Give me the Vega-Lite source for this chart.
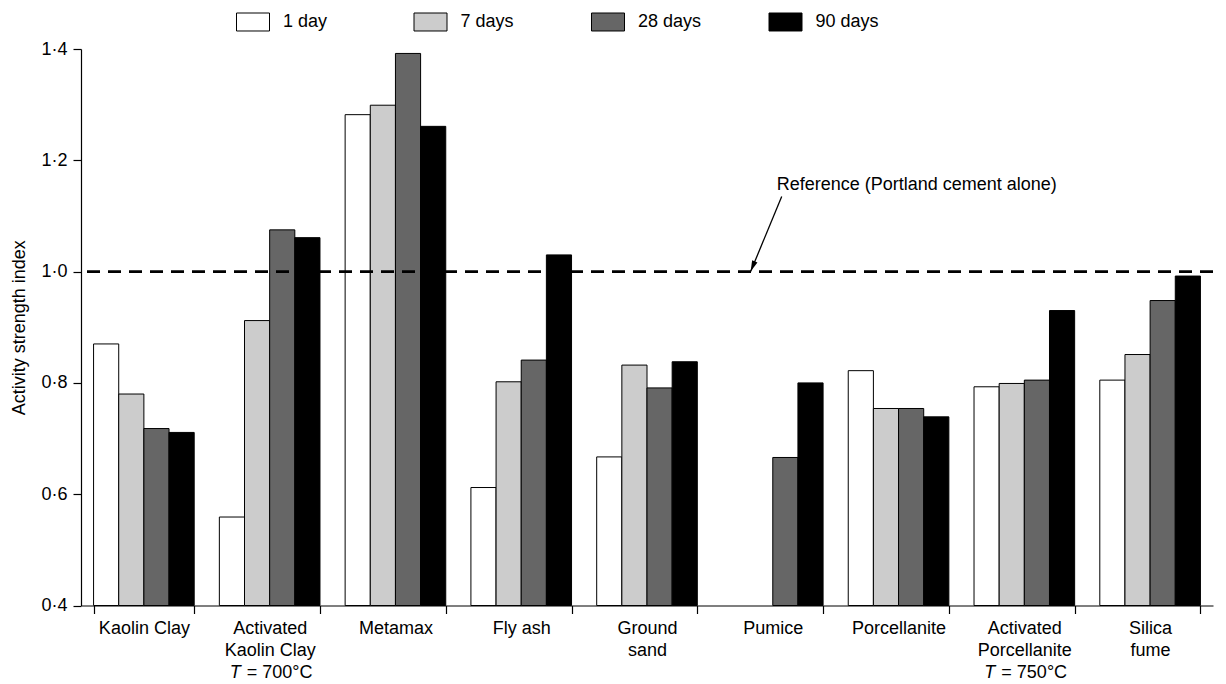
{
  "$schema": "https://vega.github.io/schema/vega-lite/v6.json",
  "autosize": {"type": "none"},
  "padding": {"left": 81, "top": 49, "right": 13, "bottom": 78},
  "width": 1132,
  "height": 556.5,
  "background": "white",
  "config": {
    "view": {"stroke": null},
    "font": "Liberation Sans",
    "axis": {
      "domainColor": "black",
      "tickColor": "black",
      "labelColor": "black",
      "titleColor": "black",
      "labelFont": "Liberation Sans",
      "titleFont": "Liberation Sans",
      "labelFontSize": 18,
      "titleFontSize": 18,
      "titleFontWeight": "normal",
      "grid": false,
      "domainWidth": 1.2,
      "tickWidth": 1.2
    },
    "legend": {
      "labelFont": "Liberation Sans",
      "labelFontSize": 18,
      "labelColor": "black"
    }
  },
  "datasets": {
    "strength": [
      {"material": "Kaolin Clay", "age": "1 day", "value": 0.870},
      {"material": "Kaolin Clay", "age": "7 days", "value": 0.780},
      {"material": "Kaolin Clay", "age": "28 days", "value": 0.718},
      {"material": "Kaolin Clay", "age": "90 days", "value": 0.711},
      {"material": "Activated|Kaolin Clay", "age": "1 day", "value": 0.559},
      {"material": "Activated|Kaolin Clay", "age": "7 days", "value": 0.912},
      {"material": "Activated|Kaolin Clay", "age": "28 days", "value": 1.075},
      {"material": "Activated|Kaolin Clay", "age": "90 days", "value": 1.061},
      {"material": "Metamax", "age": "1 day", "value": 1.282},
      {"material": "Metamax", "age": "7 days", "value": 1.299},
      {"material": "Metamax", "age": "28 days", "value": 1.392},
      {"material": "Metamax", "age": "90 days", "value": 1.261},
      {"material": "Fly ash", "age": "1 day", "value": 0.612},
      {"material": "Fly ash", "age": "7 days", "value": 0.802},
      {"material": "Fly ash", "age": "28 days", "value": 0.841},
      {"material": "Fly ash", "age": "90 days", "value": 1.030},
      {"material": "Ground|sand", "age": "1 day", "value": 0.667},
      {"material": "Ground|sand", "age": "7 days", "value": 0.832},
      {"material": "Ground|sand", "age": "28 days", "value": 0.791},
      {"material": "Ground|sand", "age": "90 days", "value": 0.838},
      {"material": "Pumice", "age": "28 days", "value": 0.666},
      {"material": "Pumice", "age": "90 days", "value": 0.800},
      {"material": "Porcellanite", "age": "1 day", "value": 0.822},
      {"material": "Porcellanite", "age": "7 days", "value": 0.754},
      {"material": "Porcellanite", "age": "28 days", "value": 0.754},
      {"material": "Porcellanite", "age": "90 days", "value": 0.739},
      {"material": "Activated|Porcellanite", "age": "1 day", "value": 0.793},
      {"material": "Activated|Porcellanite", "age": "7 days", "value": 0.799},
      {"material": "Activated|Porcellanite", "age": "28 days", "value": 0.805},
      {"material": "Activated|Porcellanite", "age": "90 days", "value": 0.930},
      {"material": "Silica|fume", "age": "1 day", "value": 0.805},
      {"material": "Silica|fume", "age": "7 days", "value": 0.851},
      {"material": "Silica|fume", "age": "28 days", "value": 0.948},
      {"material": "Silica|fume", "age": "90 days", "value": 0.992}
    ],
    "activation": [
      {"material": "Activated|Kaolin Clay", "symbol": "T", "rest": "= 700°C", "line": 0.294},
      {"material": "Activated|Porcellanite", "symbol": "T", "rest": "= 750°C", "line": 0.294}
    ]
  },
  "resolve": {"scale": {"x": "independent"}},
  "layer": [
    {
      "data": {"name": "strength"},
      "mark": {"type": "bar", "stroke": "black", "strokeWidth": 1},
      "encoding": {
        "x": {
          "field": "material",
          "type": "nominal",
          "sort": null,
          "scale": {"paddingInner": 0.2, "paddingOuter": 0.1},
          "axis": {
            "title": null,
            "labelAngle": 0,
            "tickBand": "extent",
            "tickSize": 8,
            "labelPadding": 6,
            "labelBaseline": "top",
            "labelLineHeight": 22,
            "labelExpr": "split(datum.label, '|')"
          }
        },
        "xOffset": {
          "field": "age",
          "type": "nominal",
          "sort": ["1 day", "7 days", "28 days", "90 days"],
          "scale": {"paddingInner": 0, "paddingOuter": 0}
        },
        "y": {
          "field": "value",
          "type": "quantitative",
          "scale": {"domain": [0.4, 1.4], "zero": false, "nice": false},
          "axis": {
            "title": "Activity strength index",
            "values": [0.4, 0.6, 0.8, 1.0, 1.2, 1.4],
            "tickSize": 8,
            "labelPadding": 6,
            "titlePadding": 12,
            "labelExpr": "replace(format(datum.value, '.1f'), '.', '·')"
          }
        },
        "y2": {"datum": 0.4},
        "color": {
          "field": "age",
          "type": "nominal",
          "sort": ["1 day", "7 days", "28 days", "90 days"],
          "scale": {
            "domain": ["1 day", "7 days", "28 days", "90 days"],
            "range": ["#ffffff", "#cccccc", "#666666", "#000000"]
          },
          "legend": {
            "title": null,
            "orient": "none",
            "legendX": 155,
            "legendY": -44,
            "direction": "horizontal",
            "columns": 4,
            "gridAlign": "all",
            "columnPadding": 64.5,
            "symbolType": "M-1,-0.545H1V0.545H-1Z",
            "symbolSize": 1089,
            "symbolStrokeColor": "black",
            "symbolStrokeWidth": 1,
            "symbolOpacity": 1,
            "labelOffset": 13
          }
        }
      }
    },
    {
      "data": {"name": "activation"},
      "layer": [
        {
          "mark": {"type": "text", "align": "left", "baseline": "top", "dx": -40, "font": "Liberation Sans", "fontSize": 18, "fontStyle": "italic", "color": "black"},
          "encoding": {
            "x": {"field": "material", "type": "nominal", "scale": {"domain": ["Kaolin Clay", "Activated|Kaolin Clay", "Metamax", "Fly ash", "Ground|sand", "Pumice", "Porcellanite", "Activated|Porcellanite", "Silica|fume"], "paddingInner": 0.2, "paddingOuter": 0.1}, "axis": null},
            "y": {"field": "line", "type": "quantitative"},
            "text": {"field": "symbol"}
          }
        },
        {
          "mark": {"type": "text", "align": "left", "baseline": "top", "dx": -23, "font": "Liberation Sans", "fontSize": 18, "color": "black"},
          "encoding": {
            "x": {"field": "material", "type": "nominal", "scale": {"domain": ["Kaolin Clay", "Activated|Kaolin Clay", "Metamax", "Fly ash", "Ground|sand", "Pumice", "Porcellanite", "Activated|Porcellanite", "Silica|fume"], "paddingInner": 0.2, "paddingOuter": 0.1}, "axis": null},
            "y": {"field": "line", "type": "quantitative"},
            "text": {"field": "rest"}
          }
        }
      ]
    },
    {
      "data": {"values": [{"reference": 1.0}]},
      "mark": {"type": "rule", "color": "black", "strokeWidth": 2.7, "strokeDash": [13, 8]},
      "encoding": {
        "y": {"field": "reference", "type": "quantitative"}
      }
    },
    {
      "data": {"values": [{"xs": 5.571, "ys": 1.135, "xe": 5.324, "ye": 1.0}]},
      "layer": [
        {
          "mark": {"type": "rule", "color": "black", "strokeWidth": 1.3},
          "encoding": {
            "x": {"field": "xs", "type": "quantitative", "scale": {"domain": [0, 9], "nice": false, "zero": false}, "axis": null},
            "x2": {"field": "xe"},
            "y": {"field": "ys", "type": "quantitative"},
            "y2": {"field": "ye"}
          }
        },
        {
          "mark": {"type": "point", "shape": "M0,0L0.36,1.4L-0.36,1.4Z", "filled": true, "color": "black", "opacity": 1, "size": 250, "angle": 202},
          "encoding": {
            "x": {"field": "xe", "type": "quantitative", "scale": {"domain": [0, 9], "nice": false, "zero": false}, "axis": null},
            "y": {"field": "ye", "type": "quantitative"}
          }
        }
      ]
    },
    {
      "data": {"values": [{"x": 5.531, "y": 1.147, "note": "Reference (Portland cement alone)"}]},
      "mark": {"type": "text", "align": "left", "baseline": "alphabetic", "font": "Liberation Sans", "fontSize": 18, "color": "black"},
      "encoding": {
        "x": {"field": "x", "type": "quantitative", "scale": {"domain": [0, 9], "nice": false, "zero": false}, "axis": null},
        "y": {"field": "y", "type": "quantitative"},
        "text": {"field": "note"}
      }
    }
  ]
}
